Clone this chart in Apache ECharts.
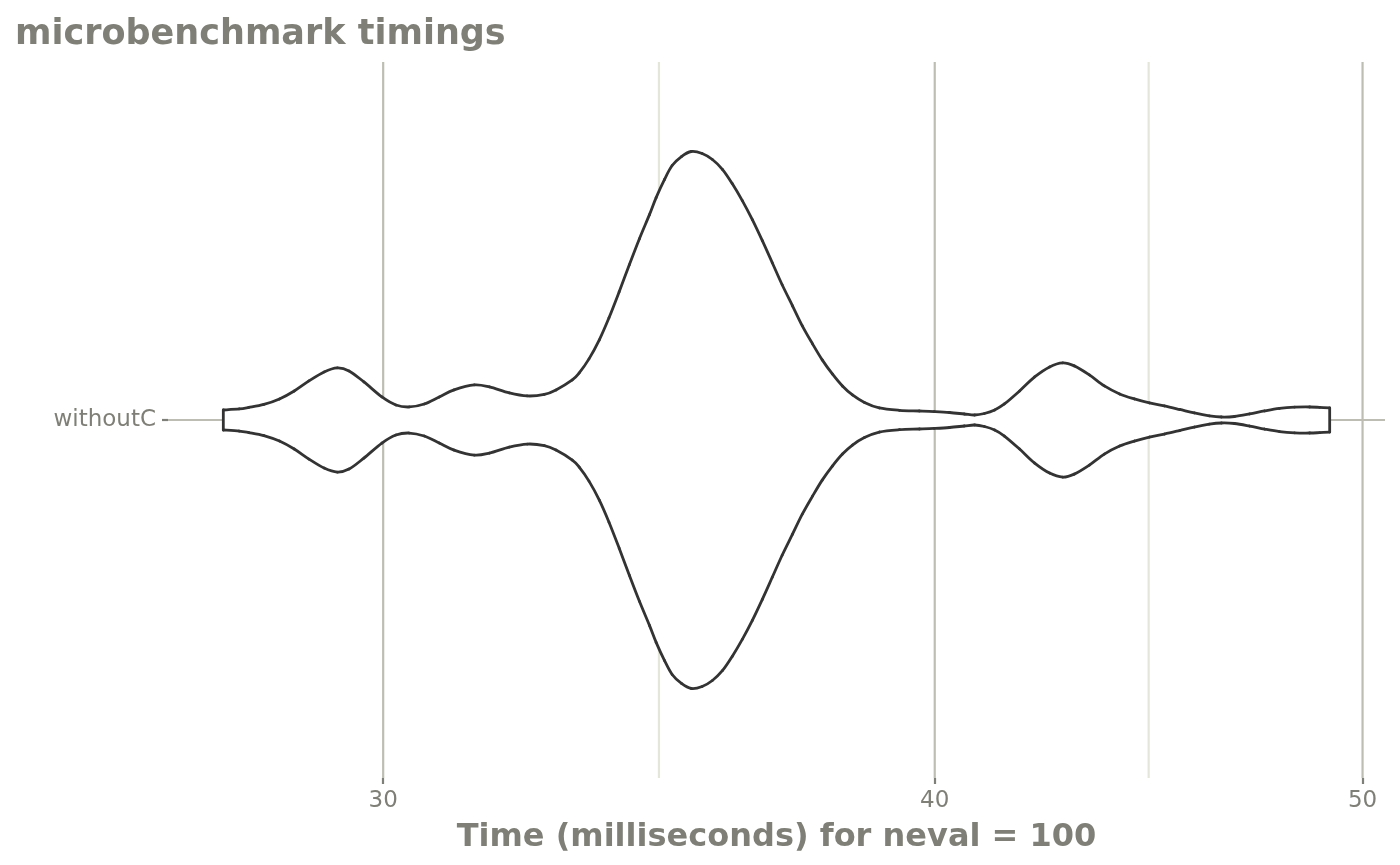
<!DOCTYPE html>
<html><head><meta charset="utf-8">
<script src="https://cdn.jsdelivr.net/npm/echarts@6/dist/echarts.min.js"></script>
<style>html,body{margin:0;padding:0;background:#fff}#c{width:1400px;height:865px}</style>
</head><body><div id="c"></div>
<script>
// ---- data ----
const categories = ['withoutC'];
const timesMs = [27.60,27.83,27.97,28.19,28.42,28.64,28.86,29.09,29.29,29.47,
  29.70,29.98,30.20,30.41,30.65,30.89,31.13,31.46,31.71,32.04,
  32.34,32.63,32.83,33.11,33.23,33.40,33.58,33.75,33.93,34.11,
  34.29,34.47,34.59,34.74,34.88,35.05,35.23,35.43,35.62,35.81,
  35.99,36.18,36.37,36.56,36.75,36.94,37.14,37.33,37.53,37.72,
  37.92,38.12,38.32,38.56,38.86,39.27,39.68,39.99,40.31,40.62,
  40.84,41.05,41.27,41.48,41.81,42.14,42.47,42.76,43.02,43.36,
  43.70,44.05,44.39,44.74,45.09,45.45,45.80,46.16,46.45,46.77,
  47.14,47.51,47.88,48.26,48.64,48.89,49.15];
const density = [10,11,12.5,15.5,21,29,39,48,52,49,
  38,23,15,13,16,23,30,35,33,27,
  24,25.5,30,40,47,61,80,102,128,155,
  181,205,222,240,254,263,268,266,260,250,
  236,219,200,179,157,135,114,94,76,60,
  46,34,25,17.5,12,9.7,9,8.4,7.5,6,
  5,6.5,10,16,29,43,53,57,54,45,
  34,26,21,17,14,10.5,7,4.2,3,3.5,
  6,9,11.5,12.8,13,12.6,12];
const xTickLabels = [30, 40, 50];
const xTitle = 'Time (milliseconds) for neval = 100';
const chartTitle = 'microbenchmark timings';

// ---- build ----
const L = Math.log10;
const majorX = xTickLabels.map(L);
const minorX = [];
for (let i = 0; i < majorX.length - 1; i++) minorX.push((majorX[i] + majorX[i + 1]) / 2);
const lo = L(timesMs[0]), hi = L(timesMs[timesMs.length - 1]);
const pad = (hi - lo) * 0.05;
const dMax = Math.max(...density);
const halfW = density.map(d => 0.45 * d / dMax);
const upper = timesMs.map((t, i) => [L(t), 1 + halfW[i]]);
const lower = timesMs.map((t, i) => [L(t), 1 - halfW[i]]);
const n = timesMs.length;
const outline = upper.concat(lower.slice().reverse());

const FONT = 'DejaVu Sans';
const TXT = '#7f7f77';
const MAJ = '#bdbdb3';
const MIN = '#e4e6da';
const LINE = '#333333';
const LW = 2.8;

// grid line specs: [kind, value, colour]
const gridSpec = [];
minorX.forEach(v => gridSpec.push(['x', v, MIN]));
majorX.forEach(v => gridSpec.push(['x', v, MAJ]));
gridSpec.push(['y', 1, MAJ]);

// Catmull-Rom rendering of a pixel polyline as bezier segments
function curveEls(pts) {
  const els = [];
  for (let i = 0; i < pts.length - 1; i++) {
    const p0 = pts[Math.max(i - 1, 0)], p1 = pts[i], p2 = pts[i + 1], p3 = pts[Math.min(i + 2, pts.length - 1)];
    els.push({type: 'bezierCurve', shape: {
      x1: p1[0], y1: p1[1], x2: p2[0], y2: p2[1],
      cpx1: p1[0] + (p2[0] - p0[0]) / 6, cpy1: p1[1] + (p2[1] - p0[1]) / 6,
      cpx2: p2[0] - (p3[0] - p1[0]) / 6, cpy2: p2[1] - (p3[1] - p1[1]) / 6},
      style: {stroke: LINE, lineWidth: LW, fill: 'none', lineCap: 'round'}});
  }
  return els;
}

const chart = echarts.init(document.getElementById('c'), null, {renderer: 'canvas'});
chart.setOption({
  animation: false,
  backgroundColor: '#ffffff',
  title: {text: chartTitle, left: 15, top: 17, padding: 0,
    textStyle: {fontFamily: FONT, fontSize: 35, fontWeight: 'bold', color: TXT}},
  grid: {left: 168, right: 15, top: 62, bottom: 87, containLabel: false},
  xAxis: {
    type: 'value', min: lo - pad, max: hi + pad,
    name: xTitle, nameLocation: 'middle', nameGap: 44,
    nameTextStyle: {fontFamily: FONT, fontSize: 32, fontWeight: 'bold', color: TXT},
    axisLine: {show: false},
    splitLine: {show: false},
    axisTick: {show: true, customValues: majorX, length: 6, lineStyle: {color: '#7f7f7a', width: 2.2}},
    axisLabel: {show: true, customValues: majorX, margin: 12,
      fontFamily: FONT, fontSize: 23, color: TXT,
      formatter: v => {
        let best = 0;
        majorX.forEach((m, i) => { if (Math.abs(m - v) < Math.abs(majorX[best] - v)) best = i; });
        return String(xTickLabels[best]);
      }}
  },
  yAxis: {
    type: 'value', min: 0.4, max: 1.6,
    axisLine: {show: false},
    splitLine: {show: false},
    axisTick: {show: true, customValues: [1], length: 6, lineStyle: {color: '#7f7f7a', width: 2.2}},
    axisLabel: {show: true, customValues: [1], margin: 12,
      fontFamily: FONT, fontSize: 23, color: TXT,
      formatter: () => categories[0]}
  },
  series: [
    {type: 'custom', z: 1, silent: true, data: gridSpec.map((g, i) => i),
      renderItem: (params, api) => {
        const g = gridSpec[params.dataIndex];
        const cs = params.coordSys;
        let shape;
        if (g[0] === 'x') {
          const px = api.coord([g[1], 1])[0];
          shape = {x1: px, y1: cs.y, x2: px, y2: cs.y + cs.height};
        } else {
          const py = api.coord([lo, g[1]])[1];
          shape = {x1: cs.x, y1: py, x2: cs.x + cs.width, y2: py};
        }
        return {type: 'line', shape, style: {stroke: g[2], lineWidth: 2.2}};
      }},
    {type: 'custom', z: 2, silent: true, data: [0],
      renderItem: (params, api) => {
        const up = upper.map(p => api.coord(p));
        const dn = lower.map(p => api.coord(p));
        const children = [
          {type: 'polygon', shape: {points: outline.map(p => api.coord(p))},
            style: {fill: '#ffffff', stroke: 'none'}}
        ].concat(curveEls(up), curveEls(dn), [
          {type: 'line', shape: {x1: up[0][0], y1: up[0][1], x2: dn[0][0], y2: dn[0][1]},
            style: {stroke: LINE, lineWidth: LW, lineCap: 'round'}},
          {type: 'line', shape: {x1: up[n-1][0], y1: up[n-1][1], x2: dn[n-1][0], y2: dn[n-1][1]},
            style: {stroke: LINE, lineWidth: LW, lineCap: 'round'}}
        ]);
        return {type: 'group', children};
      }}
  ]
});
</script>
</body></html>
